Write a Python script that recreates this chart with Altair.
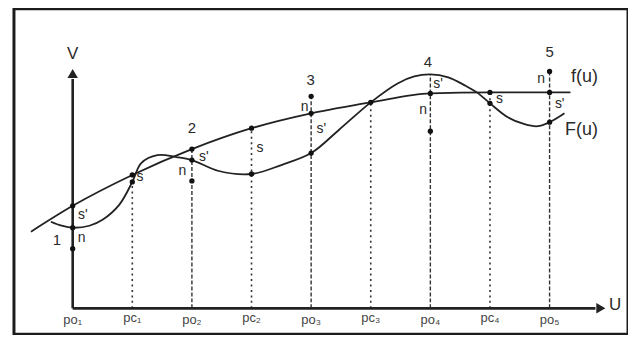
import altair as alt
import pandas as pd

# ---- data (U positions: po_i odd, pc_i even) ----
tick_u = [1, 2, 3, 4, 5, 6, 7, 8, 9]
tick_labels = ["po₁", "pc₁", "po₂", "pc₂", "po₃", "pc₃", "po₄", "pc₄", "po₅"]
tick_v = [-1.2, -0.95, -1.2, -0.95, -1.2, -0.95, -1.2, -0.95, -1.2]

f_u = [0.30, 1, 2, 3, 4, 5, 6, 7, 8, 9, 9.35]
f_v = [7.7, 10.3, 13.4, 16.0, 18.1, 19.6, 20.7, 21.6, 21.7, 21.7, 21.7]

F_u = [0.633, 0.816, 1.0, 1.28, 1.5, 1.78, 2.0, 2.15, 2.42, 2.74, 3.0,
       3.45, 4.0, 4.5, 5.0, 5.46, 6.0, 6.45, 6.73, 7.0, 7.3, 7.58, 7.78,
       8.0, 8.3, 8.58, 8.8, 9.0, 9.25]
F_v = [8.7, 8.3, 8.1, 8.3, 8.9, 10.4, 12.7, 14.6, 15.4, 15.2, 14.9,
       13.8, 13.5, 14.4, 15.6, 17.9, 20.7, 22.6, 23.3, 23.5, 23.2, 22.4, 21.7,
       20.6, 19.2, 18.5, 18.3, 18.7, 19.6]

# vertical guides: u, top, kind
guide_u = [2, 3, 4, 5, 6, 7, 8, 9]
guide_top = [13.4, 16.0, 18.1, 21.3, 20.7, 23.5, 21.7, 23.8]
guide_kind = ["pc", "po", "pc", "po", "pc", "po", "pc", "po"]

dot_u = [1, 1, 1, 2, 2, 3, 3, 3, 4, 4, 5, 5, 5, 6, 7, 7, 8, 8, 9, 9, 9]
dot_v = [10.3, 8.1, 6.0, 13.4, 12.7, 16.0, 14.9, 12.8, 18.1, 13.5, 21.3, 19.6,
         15.6, 20.7, 21.6, 17.8, 21.7, 20.6, 23.8, 21.7, 18.7]

num_text = ["1", "2", "3", "4", "5"]
num_u = [0.733, 3.0, 4.99, 6.96, 9.0]
num_v = [6.9, 18.1, 22.9, 24.8, 25.8]

small_text = ["s'", "n", "s", "s'", "n", "s", "n", "s'", "s'", "n", "s", "n", "s'"]
small_u = [1.17, 1.15, 2.13, 3.2, 2.84, 4.14, 4.89, 5.17, 7.13, 6.88, 8.16, 8.86, 9.17]
small_v = [9.4, 7.1, 13.2, 15.2, 13.8, 16.1, 20.2, 18.0, 22.5, 19.9, 21.0, 23.0, 20.5]

curve_text = ["f(u)", "F(u)"]
curve_u = [9.36, 9.26]
curve_v = [23.2, 17.9]

axis_text = ["V", "U"]
axis_u = [1.0, 10.1]
axis_v = [25.6, 0.3]

# ---- scales ----
xs = alt.Scale(domain=[1, 9], range=[59, 538.2], nice=False, zero=False)
ys = alt.Scale(domain=[0, 20], range=[301, 101], nice=False, zero=False)
X = lambda f: alt.X(f, type="quantitative", scale=xs, axis=None)
Y = lambda f: alt.Y(f, type="quantitative", scale=ys, axis=None)

INK = "#222222"
FONT = "Liberation Sans"

line_f = alt.Chart(pd.DataFrame({"u": f_u, "v": f_v})).mark_line(
    interpolate="monotone", color=INK, strokeWidth=1.8).encode(x=X("u"), y=Y("v"))
line_F = alt.Chart(pd.DataFrame({"u": F_u, "v": F_v})).mark_line(
    interpolate="catmull-rom", color=INK, strokeWidth=1.8).encode(x=X("u"), y=Y("v"))

g = pd.DataFrame({"u": guide_u, "top": guide_top, "kind": guide_kind, "bot": 0})
g_po = alt.Chart(g[g.kind == "po"]).mark_rule(
    color="#333333", strokeWidth=1.4, strokeDash=[4, 2]).encode(x=X("u"), y=Y("bot"), y2="top")
g_pc = alt.Chart(g[g.kind == "pc"]).mark_rule(
    color="#333333", strokeWidth=1.6, strokeDash=[2, 3.5]).encode(x=X("u"), y=Y("bot"), y2="top")

ax = pd.DataFrame({"u": [1.0], "u2": [9.77], "v": [0.0], "v2": [23.05]})
x_axis = alt.Chart(ax).mark_rule(color=INK, strokeWidth=2.6).encode(
    x=X("u"), x2="u2", y=Y("v"))
y_axis = alt.Chart(ax).mark_rule(color=INK, strokeWidth=2.6).encode(
    x=X("u"), y=Y("v"), y2="v2")

arrow_up = alt.Chart(pd.DataFrame({"u": [1.0], "v": [23.6]})).mark_point(
    shape="triangle-up", filled=True, color=INK, size=110, opacity=1).encode(x=X("u"), y=Y("v"))
arrow_right = alt.Chart(pd.DataFrame({"u": [9.86], "v": [0.0]})).mark_point(
    shape="triangle-right", filled=True, color=INK, size=110, opacity=1).encode(x=X("u"), y=Y("v"))

dots = alt.Chart(pd.DataFrame({"u": dot_u, "v": dot_v})).mark_circle(
    color="#111111", size=28, opacity=1).encode(x=X("u"), y=Y("v"))

def texts(t, u, v, size, align="center", color="#2a2a2a"):
    return alt.Chart(pd.DataFrame({"t": t, "u": u, "v": v})).mark_text(
        font=FONT, fontSize=size, align=align, baseline="middle", color=color
    ).encode(x=X("u"), y=Y("v"), text="t")

t_ticks = texts(tick_labels, tick_u, tick_v, 13, color="#444444")
t_num = texts(num_text, num_u, num_v, 15)
t_small = texts(small_text, small_u, small_v, 14)
t_curve = texts(curve_text, curve_u, curve_v, 18, align="left")
t_axis = texts(axis_text, axis_u, axis_v, 17)

chart = alt.layer(
    g_po, g_pc, line_f, line_F, x_axis, y_axis, arrow_up, arrow_right, dots,
    t_ticks, t_num, t_small, t_curve, t_axis
).properties(
    width=617, height=327,
    padding={"left": 6, "top": 0, "right": 0, "bottom": 0},
    autosize=alt.AutoSizeParams(type="none"),
    background="white",
).configure_view(stroke="#1c1c1c", strokeWidth=3)

chart.save("out.html", embed_options={"renderer": "svg", "actions": False})
